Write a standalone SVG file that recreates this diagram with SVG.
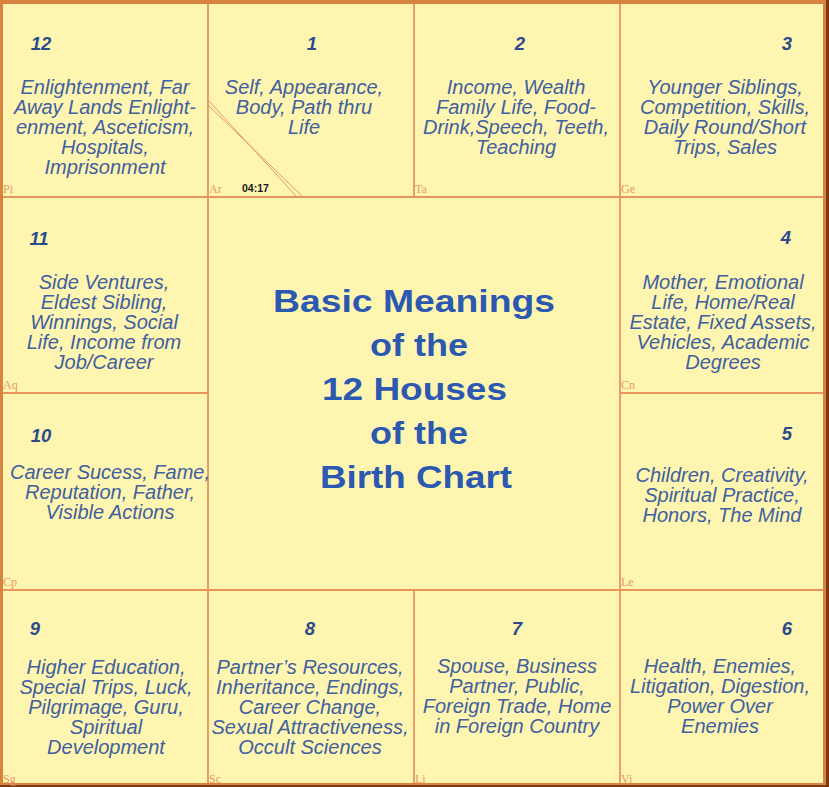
<svg xmlns="http://www.w3.org/2000/svg" width="829" height="787" viewBox="0 0 829 787">
<style>
.grid{stroke:#e9965e;stroke-width:1.8;fill:none}
.t{font-family:"Liberation Sans",Arial,sans-serif;font-style:italic;font-size:20px;fill:#40609f;text-anchor:middle}
.n{font-family:"Liberation Sans",Arial,sans-serif;font-style:italic;font-weight:bold;font-size:18.5px;fill:#2c4b8b;text-anchor:middle}
.s{font-family:"Liberation Serif","Times New Roman",serif;font-size:12px;fill:#e39a68}
.title{font-family:"Liberation Sans",Arial,sans-serif;font-weight:bold;font-size:31px;fill:#2b58b0;text-anchor:middle}
</style>
<rect x="0" y="0" width="829" height="787" fill="#7a3a14"/>
<rect x="0" y="0" width="826" height="785" fill="#d9843e"/>
<rect x="3" y="4" width="820" height="779" fill="#fef5b1"/>
<g id="connectors">
<line class="grid" x1="3" y1="197" x2="823" y2="197"/>
<line class="grid" x1="3" y1="590" x2="823" y2="590"/>
<line class="grid" x1="3" y1="393" x2="208" y2="393"/>
<line class="grid" x1="620" y1="393" x2="823" y2="393"/>
<line class="grid" x1="208" y1="4" x2="208" y2="783"/>
<line class="grid" x1="620" y1="4" x2="620" y2="783"/>
<line class="grid" x1="414" y1="4" x2="414" y2="197"/>
<line class="grid" x1="414" y1="590" x2="414" y2="783"/>
<line x1="208" y1="100" x2="297" y2="197" stroke="#e39a68" stroke-width="1"/>
<line x1="208" y1="105" x2="303" y2="197" stroke="#e39a68" stroke-width="1"/>
</g>
<g id="house12">
<text class="n" x="41" y="50">12</text>
<text class="t"><tspan x="105" y="94">Enlightenment, Far</tspan><tspan x="105" y="114">Away Lands Enlight-</tspan><tspan x="105" y="134">enment, Asceticism,</tspan><tspan x="105" y="154">Hospitals,</tspan><tspan x="105" y="174">Imprisonment</tspan></text>
<text class="s" x="3" y="193">Pi</text>
</g>
<g id="house1">
<text class="n" x="312" y="50">1</text>
<text class="t"><tspan x="304" y="94">Self, Appearance,</tspan><tspan x="304" y="114">Body, Path thru</tspan><tspan x="304" y="134">Life</tspan></text>
<text class="s" x="209" y="193">Ar</text>
<text x="242" y="192" font-family="Liberation Sans,Arial,sans-serif" font-weight="bold" font-size="10.5" fill="#1a1a1a">04:17</text>
</g>
<g id="house2">
<text class="n" x="520" y="50">2</text>
<text class="t"><tspan x="516" y="94">Income, Wealth</tspan><tspan x="516" y="114">Family Life, Food-</tspan><tspan x="516" y="134">Drink,Speech, Teeth,</tspan><tspan x="516" y="154">Teaching</tspan></text>
<text class="s" x="415" y="193">Ta</text>
</g>
<g id="house3">
<text class="n" x="787" y="50">3</text>
<text class="t"><tspan x="725" y="94">Younger Siblings,</tspan><tspan x="725" y="114">Competition, Skills,</tspan><tspan x="725" y="134">Daily Round/Short</tspan><tspan x="725" y="154">Trips, Sales</tspan></text>
<text class="s" x="621" y="193">Ge</text>
</g>
<g id="house11">
<text class="n" x="39" y="245">11</text>
<text class="t"><tspan x="104" y="289">Side Ventures,</tspan><tspan x="104" y="309">Eldest Sibling,</tspan><tspan x="104" y="329">Winnings, Social</tspan><tspan x="104" y="349">Life, Income from</tspan><tspan x="104" y="369">Job/Career</tspan></text>
<text class="s" x="3" y="389">Aq</text>
</g>
<g id="house4">
<text class="n" x="786" y="244">4</text>
<text class="t"><tspan x="723" y="289">Mother, Emotional</tspan><tspan x="723" y="309">Life, Home/Real</tspan><tspan x="723" y="329">Estate, Fixed Assets,</tspan><tspan x="723" y="349">Vehicles, Academic</tspan><tspan x="723" y="369">Degrees</tspan></text>
<text class="s" x="621" y="389">Cn</text>
</g>
<g id="house10">
<text class="n" x="41" y="442">10</text>
<text class="t"><tspan x="110" y="479">Career Sucess, Fame,</tspan><tspan x="110" y="499">Reputation, Father,</tspan><tspan x="110" y="519">Visible Actions</tspan></text>
<text class="s" x="3" y="586">Cp</text>
</g>
<g id="house5">
<text class="n" x="787" y="440">5</text>
<text class="t"><tspan x="722" y="482">Children, Creativity,</tspan><tspan x="722" y="502">Spiritual Practice,</tspan><tspan x="722" y="522">Honors, The Mind</tspan></text>
<text class="s" x="621" y="586">Le</text>
</g>
<g id="house9">
<text class="n" x="35" y="635">9</text>
<text class="t"><tspan x="106" y="674">Higher Education,</tspan><tspan x="106" y="694">Special Trips, Luck,</tspan><tspan x="106" y="714">Pilgrimage, Guru,</tspan><tspan x="106" y="734">Spiritual</tspan><tspan x="106" y="754">Development</tspan></text>
<text class="s" x="3" y="783">Sg</text>
</g>
<g id="house8">
<text class="n" x="310" y="635">8</text>
<text class="t"><tspan x="310" y="674">Partner’s Resources,</tspan><tspan x="310" y="694">Inheritance, Endings,</tspan><tspan x="310" y="714">Career Change,</tspan><tspan x="310" y="734">Sexual Attractiveness,</tspan><tspan x="310" y="754">Occult Sciences</tspan></text>
<text class="s" x="209" y="783">Sc</text>
</g>
<g id="house7">
<text class="n" x="517" y="635">7</text>
<text class="t"><tspan x="517" y="673">Spouse, Business</tspan><tspan x="517" y="693">Partner, Public,</tspan><tspan x="517" y="713">Foreign Trade, Home</tspan><tspan x="517" y="733">in Foreign Country</tspan></text>
<text class="s" x="415" y="783">Li</text>
</g>
<g id="house6">
<text class="n" x="787" y="635">6</text>
<text class="t"><tspan x="720" y="673">Health, Enemies,</tspan><tspan x="720" y="693">Litigation, Digestion,</tspan><tspan x="720" y="713">Power Over</tspan><tspan x="720" y="733">Enemies</tspan></text>
<text class="s" x="621" y="783">Vi</text>
</g>
<g id="title">
<text class="title" x="414" y="312" textLength="282" lengthAdjust="spacingAndGlyphs">Basic Meanings</text>
<text class="title" x="419" y="356" textLength="98" lengthAdjust="spacingAndGlyphs">of the</text>
<text class="title" x="414.5" y="400" textLength="185" lengthAdjust="spacingAndGlyphs">12 Houses</text>
<text class="title" x="419" y="444" textLength="98" lengthAdjust="spacingAndGlyphs">of the</text>
<text class="title" x="416" y="488" textLength="192" lengthAdjust="spacingAndGlyphs">Birth Chart</text>
</g>
</svg>
